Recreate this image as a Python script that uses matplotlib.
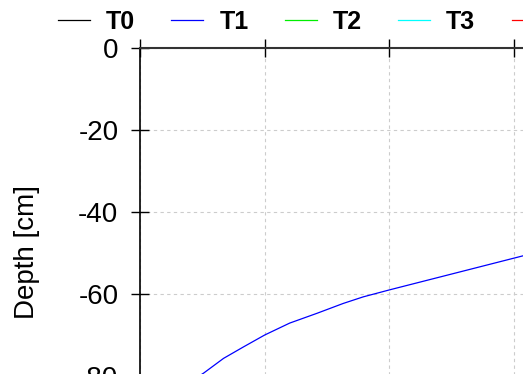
import matplotlib
matplotlib.use("Agg")
import matplotlib.pyplot as plt

plt.rcParams['font.family'] = ['Liberation Sans', 'DejaVu Sans']
plt.rcParams['axes.unicode_minus'] = False

# Series (only T1 falls inside the visible window)
names = ["T0", "T1", "T2", "T3", "T4"]
colors = ["black", "blue", "#00ee00", "cyan", "red"]
t1_x = [0.22, 0.51, 0.67, 0.83, 1.0, 1.2, 1.42, 1.63, 1.79, 2.0, 3.07, 4.4]
t1_depth = [-85, -79.3, -75.7, -72.9, -70.0, -67.1, -64.7, -62.3, -60.7,
            -59.0, -50.7, -40]
series_x = {"T0": [], "T1": t1_x, "T2": [], "T3": [], "T4": []}
series_depth = {"T0": [], "T1": t1_depth, "T2": [], "T3": [], "T4": []}

y_ticks = [0, -20, -40, -60, -80, -100]
x_ticks = [0, 1, 2, 3, 4, 5]

W, H = 523, 374
fig = plt.figure(figsize=(W / 100, H / 100), dpi=100)

# axes extend past the figure edges (cropped view)
left_px, top_px = 140, 48
x_px = 124.7   # pixels per x unit
y_px = 82 / 20  # pixels per cm
ax_w = 5 * x_px
ax_h = 100 * y_px
ax = fig.add_axes([left_px / W, (H - top_px - ax_h) / H, ax_w / W, ax_h / H])

for n, c in zip(names, colors):
    ax.plot(series_x[n], series_depth[n], color=c, lw=0.9, label=n)

ax.set_xlim(0, 5)
ax.set_ylim(-100, 0)
ax.set_yticks(y_ticks)
ax.set_xticks(x_ticks)
ax.tick_params(axis='both', direction='inout', length=13, width=1,
               labelsize=20, pad=9, top=True, labeltop=False,
               labelbottom=False)
ax.grid(True, color='#cccccc', linestyle=(0, (3, 3)), lw=0.8)
ax.spines['top'].set_color('#333333')
ax.spines['top'].set_linewidth(1.5)
ax.spines['left'].set_linewidth(1.2)

fig.text(27 / W, 1 - 252 / H, "Depth [cm]", rotation=90, ha='center',
         va='center', fontsize=20)

leg = fig.legend(loc='center left', bbox_to_anchor=(58 / W, 1 - 22 / H),
                 ncol=5, frameon=False, borderpad=0, borderaxespad=0,
                 handlelength=1.28, handletextpad=0.64, columnspacing=1.45,
                 prop={'weight': 'bold', 'size': 18})

fig.savefig("out.png", dpi=100)
